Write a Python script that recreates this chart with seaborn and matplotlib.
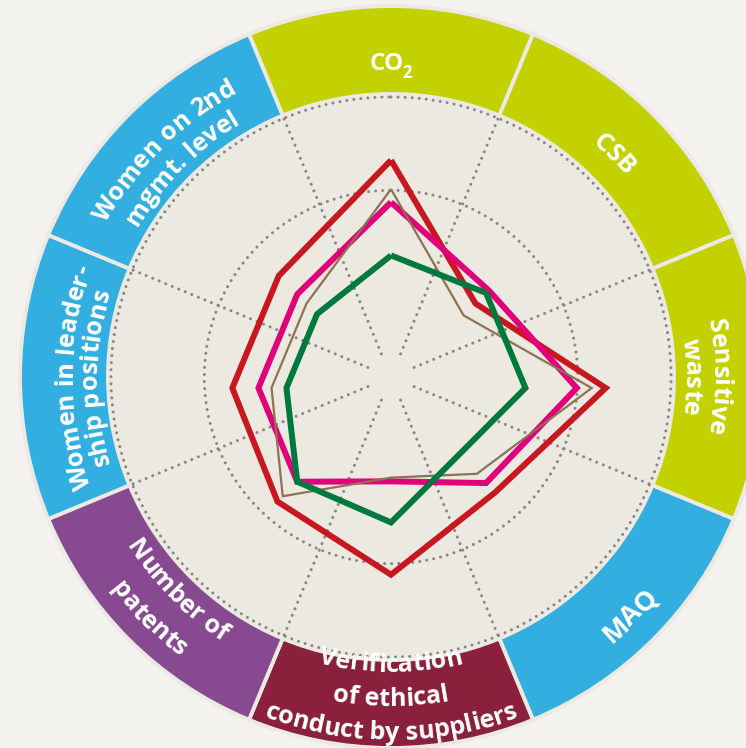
import numpy as np
import pandas as pd
import matplotlib
matplotlib.use("Agg")
import matplotlib.pyplot as plt
import seaborn as sns
from matplotlib.font_manager import FontProperties, findfont, get_font

# ---------------- data ----------------
categories = ["CO2", "CSB", "Sensitive waste", "MAQ",
              "Verification of ethical conduct by suppliers",
              "Number of patents", "Women in leadership positions",
              "Women on 2nd mgmt. level"]
red_vals = [122, 64, 115, 79, 100, 86, 85, 85]
pink_vals = [99.5, 74, 99.5, 72, 50, 71, 71, 71]
brown_vals = [106.5, 55, 107.5, 65, 48, 82, 64, 64]
green_vals = [71, 72, 72, 51, 72, 71, 56, 56]
series_names = ["red", "pink", "brown", "green"]
series_colors = ["#c8171e", "#e2007a", "#8c7353", "#00793e"]
series_widths = [4.3, 4.3, 1.6, 4.3]

ring_colors = ["#c4d100", "#c4d100", "#c4d100", "#33aee0",
               "#8a203c", "#874a91", "#33aee0", "#33aee0"]
# (lines, centre angle, baseline radii, glyph tops point outward, font size)
ring_labels = [
    (["Sensitive", "waste"], 90, [322, 294], True, 18.2),
    (["CSB"], 45, [308], True, 18.2),
    (["MAQ"], 135, [346], False, 19.5),
    (["Verification", "of ethical", "conduct by suppliers"], 180, [295, 329, 363], False, 18.2),
    (["Number of", "patents"], 225, [314, 351], False, 18.2),
    (["Women in leader-", "ship positions"], 270, [319, 294], True, 18.2),
    (["Women on 2nd", "mgmt. level"], 315, [324, 295], True, 18.2),
]

# ---------------- geometry ----------------
W_PX, H_PX = 746, 748
CX, CY = 391, 377
CY_DATA = 388
K = 1.867
RMAX = 201.0
RING_IN, RING_OUT = 283 / K, 371 / K

BG = "#f3f2ee"
INNER = "#ece9e1"
DOT = "#878787"

fig = plt.figure(figsize=(W_PX / 100, H_PX / 100), dpi=100, facecolor=BG)


def polar_axes(cx, cy, z):
    half = RMAX * K
    rect = [(cx - half) / W_PX, (H_PX - (cy + half)) / H_PX,
            2 * half / W_PX, 2 * half / H_PX]
    ax = fig.add_axes(rect, projection="polar", zorder=z)
    ax.set_theta_zero_location("N")
    ax.set_theta_direction(-1)
    ax.patch.set_alpha(0)
    return ax


axg = polar_axes(CX, CY, 1)
n = len(categories)
theta = np.radians(np.arange(n) * 360 / n)
axg.bar(0, RING_IN, width=2 * np.pi, bottom=0, color=INNER, linewidth=0)
axg.bar(theta, RING_OUT - RING_IN, width=np.radians(360 / n), bottom=RING_IN,
        color=ring_colors, edgecolor="#ebe9e1", linewidth=2.8)
tt = np.linspace(0, 2 * np.pi, 600)
dots = (0, (0.01, 2.3))
for rr in (100, 150):
    axg.plot(tt, np.full_like(tt, rr), color=DOT, lw=2.2, linestyle=dots,
             dash_capstyle="round")
axg.vlines(theta + np.radians(180 / n), 13.4, 150, colors=DOT, lw=2.2,
           linestyles=[dots], capstyle="round")
axg.set_ylim(0, RMAX)
axg.axis("off")

axd = polar_axes(CX, CY_DATA, 2)
vals = [red_vals, pink_vals, brown_vals, green_vals]
for name, v, col, lw in zip(series_names, vals, series_colors, series_widths):
    df = pd.DataFrame({"theta": np.append(theta, 2 * np.pi),
                       "r": v + [v[0]]})
    sns.lineplot(data=df, x="theta", y="r", sort=False, color=col,
                 linewidth=lw, ax=axd, solid_joinstyle="miter",
                 solid_capstyle="butt")
axd.set_ylim(0, RMAX)
axd.axis("off")

axt = fig.add_axes([0, 0, 1, 1], zorder=3)
axt.set_xlim(0, W_PX)
axt.set_ylim(H_PX, 0)
axt.axis("off")

FS = 17.5
FAM = "Open Sans"


def advances(s, size):
    fp = FontProperties(family=FAM, weight="bold", size=size)
    font = get_font(findfont(fp))
    font.set_size(size, 100)
    return fp, [font.load_char(ord(c)).linearHoriAdvance / 65536 for c in s]


def arc_text(line, center_deg, r, up_out, size=FS):
    fp, adv = advances(line, size)
    total = sum(adv)
    s = 0.0
    for c, a in zip(line, adv):
        mid = s + a / 2 - total / 2
        if up_out:
            ang = center_deg + np.degrees(mid / r)
            rot = -ang
        else:
            ang = center_deg - np.degrees(mid / r)
            rot = 180 - ang
        th = np.radians(ang)
        x = CX + r * np.sin(th)
        y = CY - r * np.cos(th)
        if c != " ":
            axt.text(x, y, c, rotation=rot, rotation_mode="anchor",
                     ha="center", va="baseline", fontproperties=fp,
                     color="white")
        s += a


for lines, ang, radii, up, fs in ring_labels:
    for ln, rr in zip(lines, radii):
        arc_text(ln, ang, rr, up, fs)

fp1, a1 = advances("CO", FS)
fp2, a2 = advances("2", FS * 0.68)
wtot = sum(a1) + sum(a2) - 2
x0 = 391 - wtot / 2
axt.text(x0, 70, "CO", ha="left", va="baseline", fontproperties=fp1, color="white")
axt.text(x0 + sum(a1) - 2, 78, "2", ha="left", va="baseline", fontproperties=fp2,
         color="white")

fig.savefig("out.png", dpi=100, facecolor=BG)
